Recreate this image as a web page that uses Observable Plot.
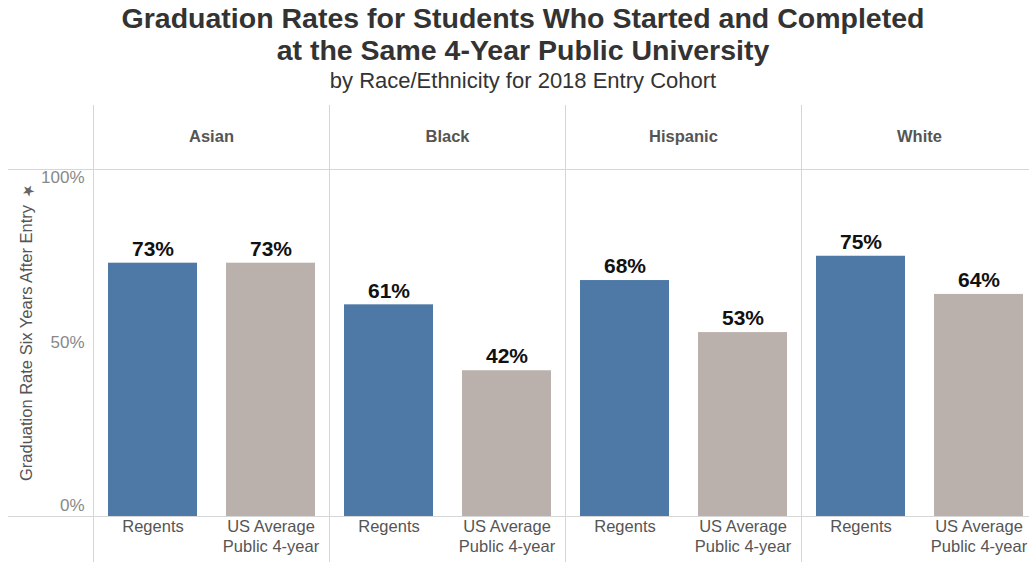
<!DOCTYPE html>
<html>
<head>
<meta charset="utf-8">
<script src="https://cdn.jsdelivr.net/npm/d3@7"></script>
<script src="https://cdn.jsdelivr.net/npm/@observablehq/plot@0.6"></script>
<style>
  html, body { margin: 0; padding: 0; background: #fff; overflow: hidden; }
  #hdr { height: 100px; width: 1029px; box-sizing: border-box; padding-left: 17px; text-align: center; font-family: "Liberation Sans", Arial, sans-serif; color: #333; }
  #t1 { font-size: 28.5px; font-weight: bold; line-height: 32px; padding-top: 2px; }
  #t2 { font-size: 22px; line-height: 26px; padding-top: 2px; }
</style>
</head>
<body>
<div id="hdr">
  <div id="t1">Graduation Rates for Students Who Started and Completed<br>at the Same 4-Year Public University</div>
  <div id="t2">by Race/Ethnicity for 2018 Entry Cohort</div>
</div>
<div id="chart"></div>
<script>
const groups = ["Asian", "Black", "Hispanic", "White"];
const programs = ["Regents", "US Average\nPublic 4-year"];
const regents = [73, 61, 68, 75];
const usAverage = [73, 42, 53, 64];
const yTicks = [0, 50, 100];
const yTitle = "Graduation Rate Six Years After Entry";

const data = groups.flatMap((g, i) => [
  {group: g, program: programs[0], value: regents[i]},
  {group: g, program: programs[1], value: usAverage[i]}
]);

const lineColor = "#d6d6d6";
const first = () => groups[0];

const yLabel = (v, anchor, dy) => Plot.text([v], {
  fx: first, y: d => d, text: d => d + "%", frameAnchor: "left",
  textAnchor: "end", dx: -9, dy, lineAnchor: anchor,
  fontSize: 17, fill: "#888"
});

const plot = Plot.plot({
  width: 1029,
  height: 462,
  marginLeft: 91,
  marginRight: -9,
  marginTop: 69,
  marginBottom: 46,
  style: {fontFamily: "'Liberation Sans', Arial, sans-serif", fontSize: "16px", background: "white"},
  fx: {domain: groups, padding: 0, axis: null},
  x: {domain: programs, paddingInner: 0.25, paddingOuter: 0.125, axis: null},
  y: {domain: [0, 100], axis: null},
  color: {domain: programs, range: ["#4e79a7", "#bab0ac"]},
  marks: [
    Plot.barY(data, {fx: "group", x: "program", y: "value", fill: "program"}),
    Plot.text(data, {fx: "group", x: "program", y: "value", text: d => d.value + "%",
      dy: -14, fontSize: 21, fontWeight: "bold", fill: "#111"}),
    Plot.text(groups, {fx: d => d, text: d => d, frameAnchor: "top", dy: -39,
      fontSize: 16.5, fontWeight: "bold", fill: "#555"}),
    Plot.axisX({tickSize: 0, tickPadding: 2, fontSize: 16.5, lineHeight: 1.18, fill: "#555", label: null}),
    yLabel(100, "top", 1),
    yLabel(50, "middle", 0),
    yLabel(0, "bottom", -6),
    Plot.text([yTitle], {fx: first, text: d => d, frameAnchor: "left", textAnchor: "middle",
      rotate: -90, dx: -67, fontSize: 16.5, fill: "#555"}),
    Plot.text(["★"], {fx: first, text: d => d, frameAnchor: "top-left", textAnchor: "middle",
      rotate: -45, dx: -69, dy: 17, fontSize: 15, fill: "#666"})
  ]
});

document.getElementById("chart").appendChild(plot);

// Frame lines positioned through the plot's own scales
const svg = d3.select(plot);
const fx = plot.scale("fx");
const y = plot.scale("y");
const lines = svg.append("g").attr("stroke", lineColor).attr("stroke-width", 1);
yTicks.filter(t => t !== 50).forEach(t => {
  const yy = Math.round(y.apply(t)) + 0.5;
  lines.append("line").attr("x1", 8).attr("x2", 1029).attr("y1", yy).attr("y2", yy);
});
groups.forEach(g => {
  const xx = Math.round(fx.apply(g)) + 0.5;
  lines.append("line").attr("x1", xx).attr("x2", xx).attr("y1", 5).attr("y2", 462);
});
lines.lower();
</script>
</body>
</html>
